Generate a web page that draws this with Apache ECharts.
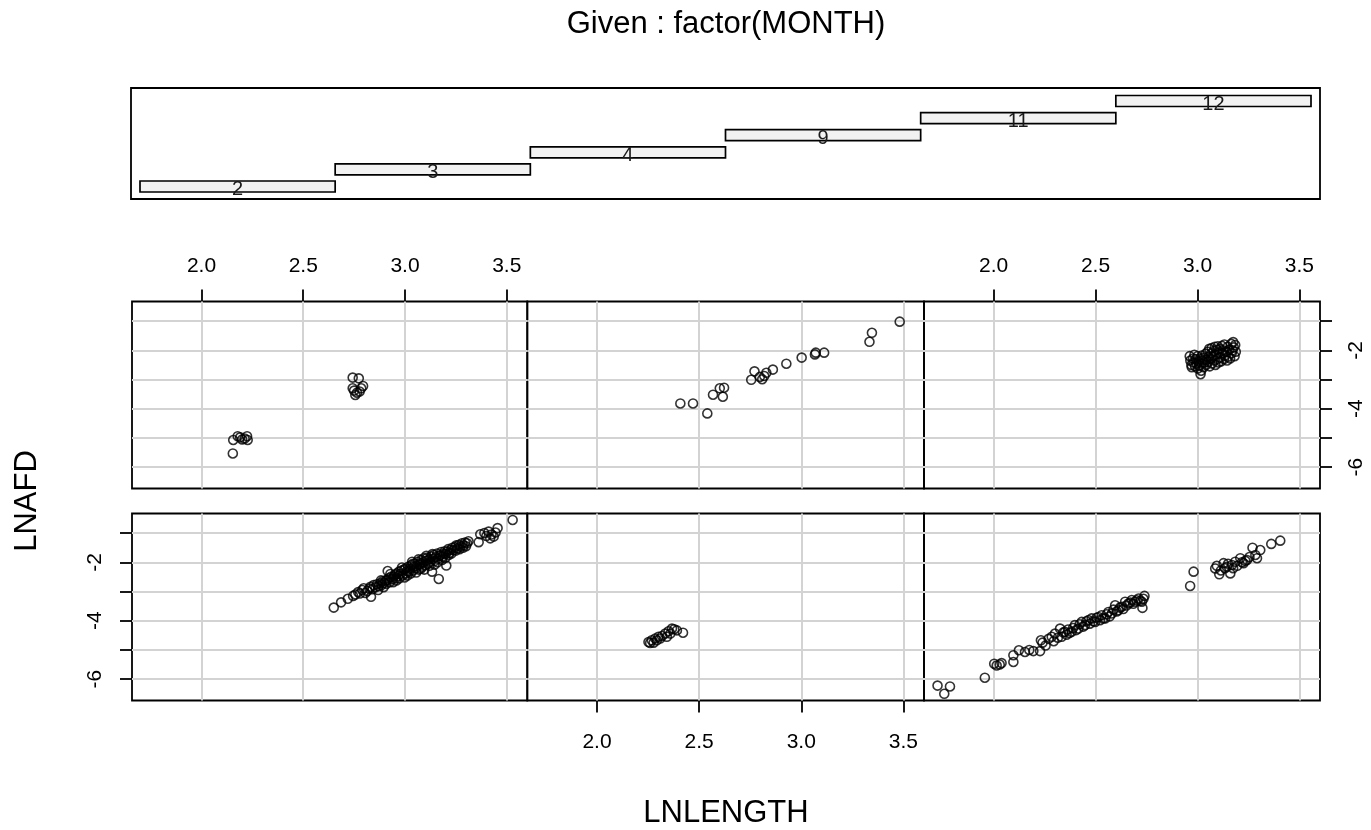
<!DOCTYPE html>
<html><head><meta charset="utf-8">
<script src="https://cdn.jsdelivr.net/npm/echarts@6/dist/echarts.min.js"></script>
<style>html,body{margin:0;padding:0;background:#fff}#c{width:1371px;height:830px}</style>
</head><body><div id="c"></div>
<script>
// ---- data ----
const givenLevels = ['2', '3', '4', '9', '11', '12'];
const xTicks = [2.0, 2.5, 3.0, 3.5];
const yTicks = [-1, -2, -3, -4, -5, -6];
const yLabels = [-2, -4, -6];

const month2 = [[2.650,-3.55],[2.686,-3.37],[2.719,-3.25],[2.745,-3.15],[2.756,-3.10],[2.770,-3.02],[2.778,-3.07],[2.790,-2.95],[2.797,-2.89],[2.805,-3.05],[2.815,-2.98],[2.825,-2.90],[2.833,-3.18],[2.830,-2.84],[2.840,-2.92],[2.846,-2.78],[2.855,-2.85],[2.862,-2.75],[2.870,-2.82],[2.879,-2.72],[2.885,-2.78],[2.890,-2.65],[2.898,-2.70],[2.905,-2.62],[2.912,-2.61],[2.915,-2.30],[2.920,-2.55],[2.925,-2.68],[2.930,-2.50],[2.938,-2.58],[2.945,-2.49],[2.950,-2.42],[2.955,-2.55],[2.960,-2.38],[2.965,-2.47],[2.970,-2.32],[2.977,-2.40],[2.982,-2.28],[2.988,-2.45],[2.995,-2.25],[3.002,-2.21],[3.006,-2.38],[3.010,-2.30],[3.015,-2.15],[3.020,-2.32],[3.025,-2.22],[3.030,-2.10],[3.035,-1.98],[3.040,-2.28],[3.043,-2.15],[3.048,-2.05],[3.052,-2.20],[3.058,-2.12],[3.062,-1.98],[3.068,-2.25],[3.072,-2.08],[3.076,-2.03],[3.080,-1.92],[3.085,-2.15],[3.090,-2.00],[3.092,-1.86],[3.098,-2.10],[3.102,-1.95],[3.108,-1.85],[3.112,-2.05],[3.118,-1.90],[3.125,-1.98],[3.128,-1.80],[3.133,-2.32],[3.138,-1.88],[3.142,-1.75],[3.148,-1.95],[3.152,-1.82],[3.158,-1.70],[3.162,-1.88],[3.166,-2.57],[3.170,-1.78],[3.174,-1.75],[3.178,-1.65],[3.185,-1.80],[3.190,-1.70],[3.195,-1.62],[3.203,-2.11],[3.200,-1.72],[3.207,-1.63],[3.212,-1.55],[3.218,-1.68],[3.225,-1.58],[3.232,-1.50],[3.239,-1.58],[3.245,-1.48],[3.252,-1.42],[3.258,-1.52],[3.265,-1.40],[3.272,-1.46],[3.280,-1.35],[3.288,-1.42],[3.295,-1.32],[3.305,-1.35],[3.312,-1.28],[3.362,-1.31],[3.370,-1.04],[3.390,-1.00],[3.400,-1.10],[3.411,-0.95],[3.419,-1.18],[3.425,-1.05],[3.436,-1.12],[3.445,-0.98],[3.455,-0.83],[3.529,-0.55],
  [2.868,-2.95],[2.882,-2.62],[2.895,-2.85],[2.908,-2.74],[2.928,-2.40],[2.942,-2.68],[2.958,-2.62],[2.972,-2.55],[2.985,-2.18],[2.998,-2.52],[3.012,-2.45],[3.028,-2.38],[3.038,-2.05],[3.055,-2.35],[3.066,-1.90],[3.078,-2.22],[3.095,-2.25],[3.105,-1.78],[3.120,-2.12],[3.135,-1.72],[3.145,-2.08],[3.160,-2.00],[3.182,-1.92],[3.198,-1.85],[3.215,-1.75],[3.228,-1.70],[3.250,-1.60],[3.268,-1.55],[3.285,-1.50],[3.300,-1.45]];

const month3 = [[2.252,-4.73],[2.260,-4.76],[2.268,-4.67],[2.277,-4.75],[2.285,-4.61],[2.293,-4.67],[2.301,-4.55],[2.309,-4.61],[2.318,-4.52],[2.334,-4.44],[2.342,-4.55],[2.350,-4.36],[2.359,-4.44],[2.367,-4.27],[2.378,-4.29],[2.391,-4.33],[2.421,-4.41]];

const month4 = [[1.725,-6.22],[1.758,-6.50],[1.786,-6.25],[1.957,-5.95],[2.003,-5.47],[2.015,-5.53],[2.030,-5.50],[2.039,-5.45],[2.097,-5.41],[2.097,-5.18],[2.124,-5.01],[2.154,-5.07],[2.175,-5.00],[2.195,-5.04],[2.228,-5.04],[2.232,-4.67],[2.240,-4.75],[2.255,-4.85],[2.270,-4.62],[2.285,-4.55],[2.295,-4.70],[2.301,-4.44],[2.315,-4.58],[2.326,-4.27],[2.334,-4.55],[2.342,-4.40],[2.350,-4.38],[2.358,-4.48],[2.365,-4.30],[2.372,-4.42],[2.383,-4.38],[2.390,-4.25],[2.399,-4.15],[2.405,-4.32],[2.416,-4.27],[2.422,-4.12],[2.432,-4.04],[2.440,-4.20],[2.449,-4.15],[2.455,-4.02],[2.465,-3.98],[2.472,-4.10],[2.481,-3.92],[2.490,-4.02],[2.498,-4.04],[2.505,-3.90],[2.514,-3.87],[2.522,-3.98],[2.530,-3.81],[2.538,-3.92],[2.547,-3.92],[2.555,-3.78],[2.563,-3.70],[2.570,-3.85],[2.580,-3.75],[2.588,-3.62],[2.596,-3.47],[2.604,-3.68],[2.612,-3.64],[2.620,-3.55],[2.629,-3.52],[2.636,-3.60],[2.645,-3.35],[2.652,-3.48],[2.661,-3.41],[2.670,-3.38],[2.678,-3.29],[2.685,-3.42],[2.694,-3.35],[2.702,-3.30],[2.711,-3.24],[2.720,-3.32],[2.727,-3.35],[2.730,-3.56],[2.740,-3.15],[2.735,-3.25],[2.964,-2.81],[2.981,-2.32],[3.087,-2.21],[3.095,-2.12],[3.107,-2.41],[3.115,-2.28],[3.128,-2.03],[3.135,-2.20],[3.144,-2.15],[3.150,-2.05],[3.161,-2.38],[3.169,-2.09],[3.175,-2.20],[3.185,-1.98],[3.195,-2.12],[3.210,-1.86],[3.218,-2.00],[3.226,-2.03],[3.235,-1.95],[3.243,-1.92],[3.255,-1.82],[3.270,-1.50],[3.284,-1.75],[3.292,-1.86],[3.308,-1.58],[3.362,-1.37],[3.406,-1.26]];

const month9 = [[2.156,-5.07],[2.178,-4.94],[2.200,-5.05],[2.224,-4.94],[2.227,-5.07],[2.154,-5.53],[2.190,-4.98],[2.212,-5.02],[2.743,-2.935],[2.773,-2.96],[2.743,-3.30],[2.794,-3.22],[2.764,-3.45],[2.756,-3.53],[2.777,-3.41],[2.750,-3.38],[2.785,-3.30]];

const month11 = [[2.408,-3.82],[2.470,-3.82],[2.540,-4.16],[2.568,-3.52],[2.601,-3.30],[2.622,-3.28],[2.616,-3.59],[2.755,-3.01],[2.771,-2.72],[2.797,-2.91],[2.809,-2.99],[2.819,-2.88],[2.829,-2.77],[2.861,-2.66],[2.927,-2.46],[3.002,-2.25],[3.067,-2.14],[3.071,-2.08],[3.112,-2.08],[3.334,-1.71],[3.346,-1.40],[3.482,-1.02]];

const month12 = [[2.962,-2.20],[2.965,-2.35],[2.970,-2.50],[2.972,-2.58],[2.978,-2.28],[2.980,-2.42],[2.985,-2.15],[2.988,-2.55],[2.992,-2.30],[2.995,-2.45],[3.000,-2.20],[3.002,-2.62],[3.005,-2.38],[3.008,-2.52],[3.012,-2.28],[3.015,-2.82],[3.018,-2.70],[3.020,-2.45],[3.022,-2.18],[3.025,-2.35],[3.030,-2.58],[3.032,-2.25],[3.035,-2.42],[3.040,-2.12],[3.042,-2.50],[3.045,-2.32],[3.050,-2.05],[3.052,-2.40],[3.055,-2.22],[3.058,-1.95],[3.060,-2.55],[3.065,-2.30],[3.068,-2.10],[3.070,-1.92],[3.072,-2.45],[3.075,-2.20],[3.080,-2.02],[3.082,-2.35],[3.085,-1.88],[3.088,-2.50],[3.090,-2.15],[3.095,-1.98],[3.098,-2.30],[3.100,-1.86],[3.103,-2.42],[3.105,-2.08],[3.110,-1.95],[3.112,-2.25],[3.115,-2.38],[3.120,-1.85],[3.122,-2.10],[3.125,-2.00],[3.130,-2.30],[3.132,-1.80],[3.135,-2.18],[3.140,-2.05],[3.145,-2.35],[3.148,-1.88],[3.150,-2.22],[3.155,-1.98],[3.160,-2.28],[3.165,-1.78],[3.168,-2.10],[3.172,-2.00],[3.175,-1.72],[3.178,-1.90],[3.182,-2.20],[3.185,-1.82],[3.188,-2.05]];

// panel order as in coplot: bottom row left->right, then top row
const panelData = [month2, month3, month4, month9, month11, month12];

// ---- layout ----
const FONT = 'Liberation Sans';
const cols = [{left: 132, width: 395.3}, {left: 527.3, width: 396.7}, {left: 924, width: 396}];
const rows = [{top: 513.5, height: 187}, {top: 301.5, height: 187}];
const XMIN = 1.6586, XMAX = 3.601, YMIN = -6.73, YMAX = -0.33;
const xAxisPos = ['none', 'bottom', 'none', 'top', 'none', 'top'];
const yAxisPos = ['left', 'none', 'none', 'none', 'none', 'right'];

const grids = [], xAxes = [], yAxes = [], series = [];
panelData.forEach((pts, i) => {
  const c = cols[i % 3], r = rows[i < 3 ? 0 : 1];
  grids.push({left: c.left, top: r.top, width: c.width, height: r.height, show: true,
    borderColor: '#000', borderWidth: 1.8, backgroundColor: 'transparent', containLabel: false});
  const xp = xAxisPos[i], yp = yAxisPos[i];
  xAxes.push({type: 'value', gridIndex: i, min: XMIN, max: XMAX, show: xp !== 'none',
    position: xp === 'none' ? 'bottom' : xp,
    axisLine: {show: false}, splitLine: {show: false},
    axisTick: {show: true, inside: false, length: 12, lineStyle: {color: '#000', width: 1.8}, customValues: xTicks},
    axisLabel: {show: true, customValues: xTicks, formatter: v => Number(v).toFixed(1),
      margin: xp === 'top' ? 25 : 31, color: '#000', fontSize: 21, fontFamily: FONT}});
  yAxes.push({type: 'value', gridIndex: i, min: YMIN, max: YMAX, show: yp !== 'none',
    position: yp === 'none' ? 'left' : yp,
    axisLine: {show: false}, splitLine: {show: false},
    axisTick: {show: true, inside: false, length: 12, lineStyle: {color: '#000', width: 1.8}, customValues: yTicks},
    axisLabel: {show: true, customValues: yLabels, rotate: 90, formatter: v => String(v),
      margin: 26, color: '#000', fontSize: 21, fontFamily: FONT}});
  series.push({type: 'scatter', xAxisIndex: i, yAxisIndex: i, data: pts, z: 3,
    symbol: 'circle', symbolSize: 9, silent: true, animation: false,
    itemStyle: {color: 'rgba(0,0,0,0)', borderColor: '#000', borderWidth: 1.6},
    emphasis: {disabled: true},
    markLine: {silent: true, symbol: 'none', z: 1, animation: false, label: {show: false},
      lineStyle: {color: '#d3d3d3', width: 2, type: 'solid'},
      emphasis: {disabled: true},
      data: [...xTicks.map(v => ({xAxis: v})), ...yTicks.map(v => ({yAxis: v}))]}});
});

// given panel
const gi = panelData.length;
grids.push({left: 131, top: 88, width: 1189, height: 111, show: true, borderColor: '#000', borderWidth: 1.8});
xAxes.push({type: 'value', gridIndex: gi, min: 0.4539, max: 6.5461, show: false});
yAxes.push({type: 'value', gridIndex: gi, min: 0.269, max: 6.76, show: false});
series.push({type: 'custom', xAxisIndex: gi, yAxisIndex: gi, silent: true, animation: false,
  data: givenLevels.map((l, k) => [k + 0.5, k + 1.5, k + 1]),
  renderItem: (params, api) => {
    const a = api.coord([api.value(0), api.value(2)]);
    const b = api.coord([api.value(1), api.value(2)]);
    return {type: 'group', children: [
      {type: 'rect', shape: {x: a[0], y: a[1] - 5.5, width: b[0] - a[0], height: 11},
        style: {fill: '#f2f2f2', stroke: '#000', lineWidth: 1.7}},
      {type: 'text', style: {text: givenLevels[params.dataIndex], x: (a[0] + b[0]) / 2, y: a[1] + 3,
        align: 'center', verticalAlign: 'middle', fontSize: 20, fontFamily: FONT, fill: '#1a1a1a'}}
    ]};
  }});

const chart = echarts.init(document.getElementById('c'), null, {renderer: 'canvas'});
chart.setOption({
  animation: false,
  backgroundColor: '#fff',
  grid: grids, xAxis: xAxes, yAxis: yAxes, series: series,
  graphic: [
    {type: 'text', x: 726, y: 24, style: {text: 'Given : factor(MONTH)', align: 'center', verticalAlign: 'middle', fontSize: 31, fontFamily: FONT, fill: '#000'}},
    {type: 'text', x: 726, y: 813, style: {text: 'LNLENGTH', align: 'center', verticalAlign: 'middle', fontSize: 31, fontFamily: FONT, fill: '#000'}},
    {type: 'text', x: 27, y: 501, rotation: Math.PI / 2, style: {text: 'LNAFD', align: 'center', verticalAlign: 'middle', fontSize: 31, fontFamily: FONT, fill: '#000'}}
  ]
});
</script></body></html>
